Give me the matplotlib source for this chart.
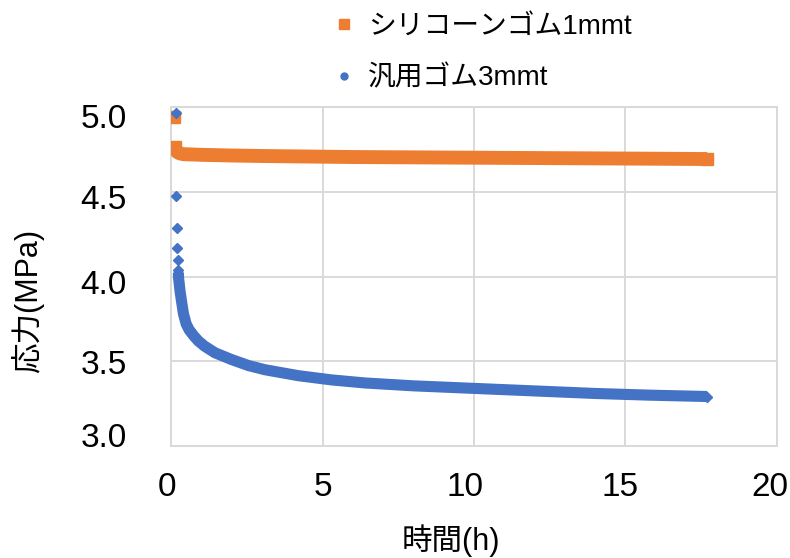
import matplotlib
matplotlib.use("Agg")
import matplotlib.pyplot as plt
from matplotlib.lines import Line2D
from matplotlib.transforms import ScaledTranslation

FONT = ["Liberation Sans", "Noto Sans CJK JP"]
plt.rcParams["font.family"] = FONT

ORANGE = "#ED7D31"
BLUE = "#4472C4"
GRID = "#D9D9D9"

# シリコーンゴム1mmt : first reading, then the continuous record
sil_first_t = [0.10]
sil_first_v = [4.944]
sil_t = [0.13, 0.15, 0.20, 0.28, 0.40, 0.70, 1.0, 2.0, 3.0, 4.0, 5.0, 6.0,
         7.0, 8.0, 9.0, 10.0, 11.0, 12.0, 13.0, 14.0, 15.0, 16.0, 17.0, 17.7]
sil_v = [4.765, 4.750, 4.735, 4.727, 4.722, 4.720, 4.718, 4.714, 4.711,
         4.709, 4.707, 4.705, 4.704, 4.703, 4.702, 4.701, 4.700, 4.699,
         4.698, 4.697, 4.696, 4.695, 4.694, 4.693]

# 汎用ゴム3mmt
gen_first_t = [0.15, 0.16, 0.19, 0.21, 0.22, 0.23]
gen_first_v = [4.965, 4.475, 4.284, 4.170, 4.095, 4.040]
gen_t = [0.24, 0.25, 0.30, 0.35, 0.41, 0.50, 0.60, 0.75, 0.90, 1.1, 1.45,
         2.0, 2.55, 3.1, 4.2, 5.3, 6.4, 8.0, 10.0, 12.0, 14.0, 15.8, 17.7]
gen_v = [4.02, 3.99, 3.91, 3.85, 3.78, 3.72, 3.685, 3.65, 3.62, 3.59, 3.55,
         3.51, 3.475, 3.45, 3.415, 3.39, 3.372, 3.355, 3.34, 3.325, 3.31,
         3.30, 3.292]

labels = ["シリコーンゴム1mmt", "汎用ゴム3mmt"]
x_ticks = [0, 5, 10, 15, 20]
y_ticks = [3.0, 3.5, 4.0, 4.5, 5.0]

fig = plt.figure(figsize=(7.9, 5.58), dpi=100)
ax = fig.add_axes([0.2165, 0.2007, 0.767, 0.6075])

# dense records drawn as a thick band, with the marker shape at both ends
ax.plot(sil_t, sil_v, color=ORANGE, lw=10, marker="s", ms=9,
        markevery=[0, len(sil_t) - 1], solid_capstyle="butt",
        solid_joinstyle="round", zorder=3)
ax.plot(sil_first_t, sil_first_v, ls="none", color=ORANGE, marker="s", ms=9,
        zorder=3)
ax.plot(gen_t, gen_v, color=BLUE, lw=8, marker="D", ms=5.5,
        markevery=[0, len(gen_t) - 1], solid_capstyle="butt",
        solid_joinstyle="round", zorder=4)
ax.plot(gen_first_t, gen_first_v, ls="none", color=BLUE, marker="D", ms=5.5,
        zorder=4)

ax.set_xlim(0, 20)
ax.set_ylim(3.0, 5.0)
ax.set_xticks(x_ticks)
ax.set_yticks(y_ticks)
ax.set_xticklabels([str(v) for v in x_ticks])
ax.set_yticklabels(["%.1f" % v for v in y_ticks])
ax.tick_params(axis="both", length=0, labelsize=24)
ax.tick_params(axis="x", pad=18.5)
ax.tick_params(axis="y", pad=32)
ax.grid(True, color=GRID, lw=1.4)
ax.set_axisbelow(True)
for s in ax.spines.values():
    s.set_color(GRID)
    s.set_linewidth(1.4)

# small shifts of the tick labels, as they sit in the original
x_shift = [-4, 0, -9, -5, -7]
y_shift = [-11, 1, 5, 5, 9]
for lab, dx in zip(ax.get_xticklabels(), x_shift):
    lab.set_transform(lab.get_transform() + ScaledTranslation(dx / 100, 0, fig.dpi_scale_trans))
for lab, dy in zip(ax.get_yticklabels(), y_shift):
    lab.set_transform(lab.get_transform() + ScaledTranslation(0, -dy / 100, fig.dpi_scale_trans))

ax.set_xlabel("時間(h)", fontsize=22, va="center")
ax.xaxis.set_label_coords(0.462, -0.280)
ax.set_ylabel("応力(MPa)", fontsize=22, va="center", ha="center")
ax.yaxis.set_label_coords(-0.236, 0.428)

handles = [
    Line2D([], [], ls="none", marker="s", color=ORANGE, ms=7),
    Line2D([], [], ls="none", marker="o", color=BLUE, ms=5),
]
fig.legend(handles, labels, loc="upper left", bbox_to_anchor=(0.418, 0.976),
           frameon=False, borderpad=0, borderaxespad=0, handlelength=1.0,
           handletextpad=0.37, labelspacing=0.93, fontsize=20)

fig.savefig("out.png", dpi=100)
